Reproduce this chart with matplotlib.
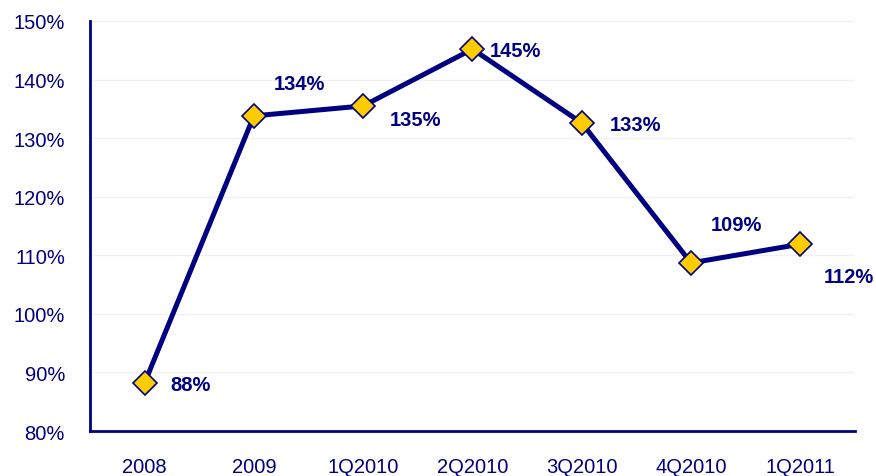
import numpy as np
import matplotlib
matplotlib.use('Agg')
import matplotlib.pyplot as plt
from matplotlib.ticker import FuncFormatter

plt.rcParams['font.family'] = ['Liberation Sans', 'DejaVu Sans']

okresy = ['2008', '2009', '1Q2010', '2Q2010', '3Q2010', '4Q2010', '1Q2011']
wartosci = [88.2, 133.8, 135.5, 145.2, 132.6, 108.7, 111.9]
etykiety = ['88%', '134%', '135%', '145%', '133%', '109%', '112%']
# przesuniecia etykiet w punktach
przes = [(33, -1), (33, 23), (38, -10), (31, -1), (39, -1), (33, 28), (35, -23)]

granat = '#000080'

fig = plt.figure(figsize=(8.76, 4.77), dpi=100)
ax = fig.add_axes([0.1027, 0.0943, 0.8733, 0.8596])

x = np.arange(len(okresy))
ax.plot(x, wartosci, color=granat, linewidth=3.6, marker='D', markersize=12,
        markerfacecolor='#FFCC00', markeredgecolor=granat, markeredgewidth=1.2, zorder=3)

for xi, yi, t, (dx, dy) in zip(x, wartosci, etykiety, przes):
    ax.annotate(t, (xi, yi), xytext=(dx, dy), textcoords='offset points',
                ha='center', va='center', fontsize=14.5, fontweight='bold', color=granat)

ax.set_xlim(-0.5, len(okresy) - 0.5)
ax.set_ylim(80, 150)
ax.set_yticks(np.arange(80, 151, 10))
ax.yaxis.set_major_formatter(FuncFormatter(lambda v, p: '%d%%' % v))
ax.set_xticks(x)
ax.set_xticklabels(okresy)
ax.tick_params(axis='both', length=0, labelsize=14.5, labelcolor=granat)
ax.tick_params(axis='x', pad=19)
ax.tick_params(axis='y', pad=18)
ax.grid(axis='y', color='#f0f0f0', linewidth=1)
ax.set_axisbelow(True)

for s in ['top', 'right']:
    ax.spines[s].set_visible(False)
for s in ['left', 'bottom']:
    ax.spines[s].set_color(granat)
    ax.spines[s].set_linewidth(2)

fig.savefig('out.png', dpi=100)
